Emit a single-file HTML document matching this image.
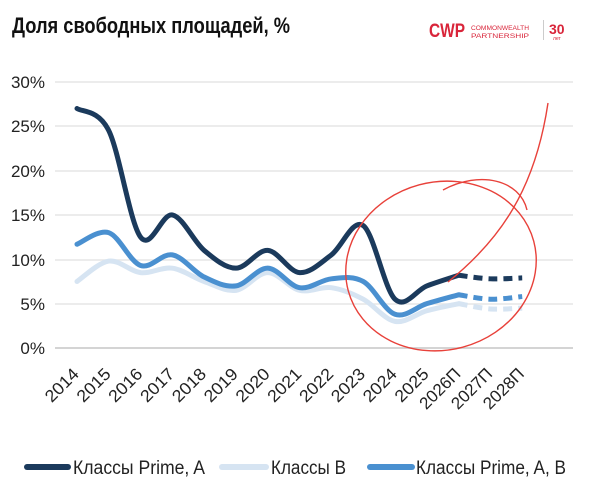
<!DOCTYPE html>
<html><head><meta charset="utf-8"><style>
body{margin:0;background:#fff;}
svg{display:block;font-family:"Liberation Sans",sans-serif;}
</style></head><body>
<svg width="604" height="496" viewBox="0 0 604 496" xmlns="http://www.w3.org/2000/svg">
<text x="12" y="33" font-size="22" font-weight="bold" fill="#111" textLength="278" lengthAdjust="spacingAndGlyphs">Доля свободных площадей, %</text>
<!-- logo -->
<g fill="#d9253a">
<text x="429" y="37" font-size="19" font-weight="bold" textLength="36" lengthAdjust="spacingAndGlyphs">CWP</text>
<text x="471" y="30" font-size="6.5" textLength="58" lengthAdjust="spacingAndGlyphs">COMMONWEALTH</text>
<text x="471" y="38" font-size="6" textLength="58" lengthAdjust="spacingAndGlyphs">PARTNERSHIP</text>
<rect x="543" y="20" width="1" height="20" fill="#ccc"/>
<text x="549" y="34" font-size="14" font-weight="bold">30</text>
<text x="553" y="40" font-size="5">лет</text>
</g>
<!-- grid -->
<g stroke="#e6e6e6" stroke-width="1.5">
<line x1="55" x2="573" y1="82" y2="82"/>
<line x1="55" x2="573" y1="126" y2="126"/>
<line x1="55" x2="573" y1="171" y2="171"/>
<line x1="55" x2="573" y1="215" y2="215"/>
<line x1="55" x2="573" y1="260" y2="260"/>
<line x1="55" x2="573" y1="304" y2="304"/>
</g>
<line x1="55" x2="573" y1="348" y2="348" stroke="#d4d4d4" stroke-width="2"/>
<g font-size="17" fill="#222" text-anchor="end">
<text x="45" y="88">30%</text><text x="45" y="132">25%</text><text x="45" y="177">20%</text>
<text x="45" y="221">15%</text><text x="45" y="266">10%</text><text x="45" y="310">5%</text><text x="45" y="354">0%</text>
</g>
<g font-size="17" fill="#222" text-anchor="end" id="xl"></g>
<g id="lines"></g>
<!-- red annotations -->
<g fill="none" stroke="#e8413a" stroke-width="1.4">
<path d="M443,190 C480,170 520,180 527,210"/>
<ellipse cx="441" cy="266" rx="96" ry="84" transform="rotate(-15 441 266)"/>
<path d="M448,282 C500,240 535,190 548,103"/>
</g>
<!-- legend -->
<g font-size="19" fill="#222">
<line x1="27" x2="68" y1="467" y2="467" stroke="#1b3a5c" stroke-width="6" stroke-linecap="round"/>
<text x="73" y="474" textLength="132" lengthAdjust="spacingAndGlyphs">Классы Prime, A</text>
<line x1="222" x2="266" y1="467" y2="467" stroke="#d6e4f2" stroke-width="6" stroke-linecap="round"/>
<text x="271" y="474" textLength="75" lengthAdjust="spacingAndGlyphs">Классы B</text>
<line x1="370" x2="412" y1="467" y2="467" stroke="#4a90d0" stroke-width="6" stroke-linecap="round"/>
<text x="416" y="474" textLength="150" lengthAdjust="spacingAndGlyphs">Классы Prime, A, B</text>
</g>
</svg>
<script>
const ns="http://www.w3.org/2000/svg";
const X=i=>77+i*31.8, Y=v=>348-v*8.87;
const labs=["2014","2015","2016","2017","2018","2019","2020","2021","2022","2023","2024","2025","2026П","2027П","2028П"];
const xl=document.getElementById("xl");
labs.forEach((l,i)=>{const x=X(i)+3,y=375;const t=document.createElementNS(ns,"text");t.setAttribute("x",x);t.setAttribute("y",y);
t.setAttribute("transform",`rotate(-45 ${x} ${y})`);t.setAttribute("textLength",l.length>4?50:40);t.setAttribute("lengthAdjust","spacingAndGlyphs");t.textContent=l;xl.appendChild(t);});
function path(pts){let d=`M${pts[0][0]},${pts[0][1]}`;for(let i=0;i<pts.length-1;i++){const p0=pts[i-1]||pts[i],p1=pts[i],p2=pts[i+1],p3=pts[i+2]||p2;
d+=` C${p1[0]+(p2[0]-p0[0])/6},${p1[1]+(p2[1]-p0[1])/6} ${p2[0]-(p3[0]-p1[0])/6},${p2[1]-(p3[1]-p1[1])/6} ${p2[0]},${p2[1]}`;}return d;}
const series=[
{c:"#d6e4f2",v:[7.5,9.8,8.5,9,7.5,6.5,8.5,6.5,6.8,5.5,3,4.2,5,4.4,4.5]},
{c:"#4a90d0",v:[11.7,13,9.3,10.5,8,7,9,6.8,7.8,7.5,3.8,5,6,5.5,5.8]},
{c:"#1b3a5c",v:[27,24.5,12.5,15,11,9,11,8.5,10.5,13.8,5.5,7,8.2,7.8,7.9]}];
const g=document.getElementById("lines");
series.forEach(s=>{const pts=s.v.map((v,i)=>[X(i),Y(v)]);
const a=document.createElementNS(ns,"path");a.setAttribute("d",path(pts.slice(0,13)));
a.setAttribute("fill","none");a.setAttribute("stroke",s.c);a.setAttribute("stroke-width","5");a.setAttribute("stroke-linecap","round");g.appendChild(a);
const b=document.createElementNS(ns,"path");b.setAttribute("d",path(pts.slice(12)));
b.setAttribute("fill","none");b.setAttribute("stroke",s.c);b.setAttribute("stroke-width","5");b.setAttribute("stroke-dasharray","9 6");g.appendChild(b);});
</script>
</body></html>
